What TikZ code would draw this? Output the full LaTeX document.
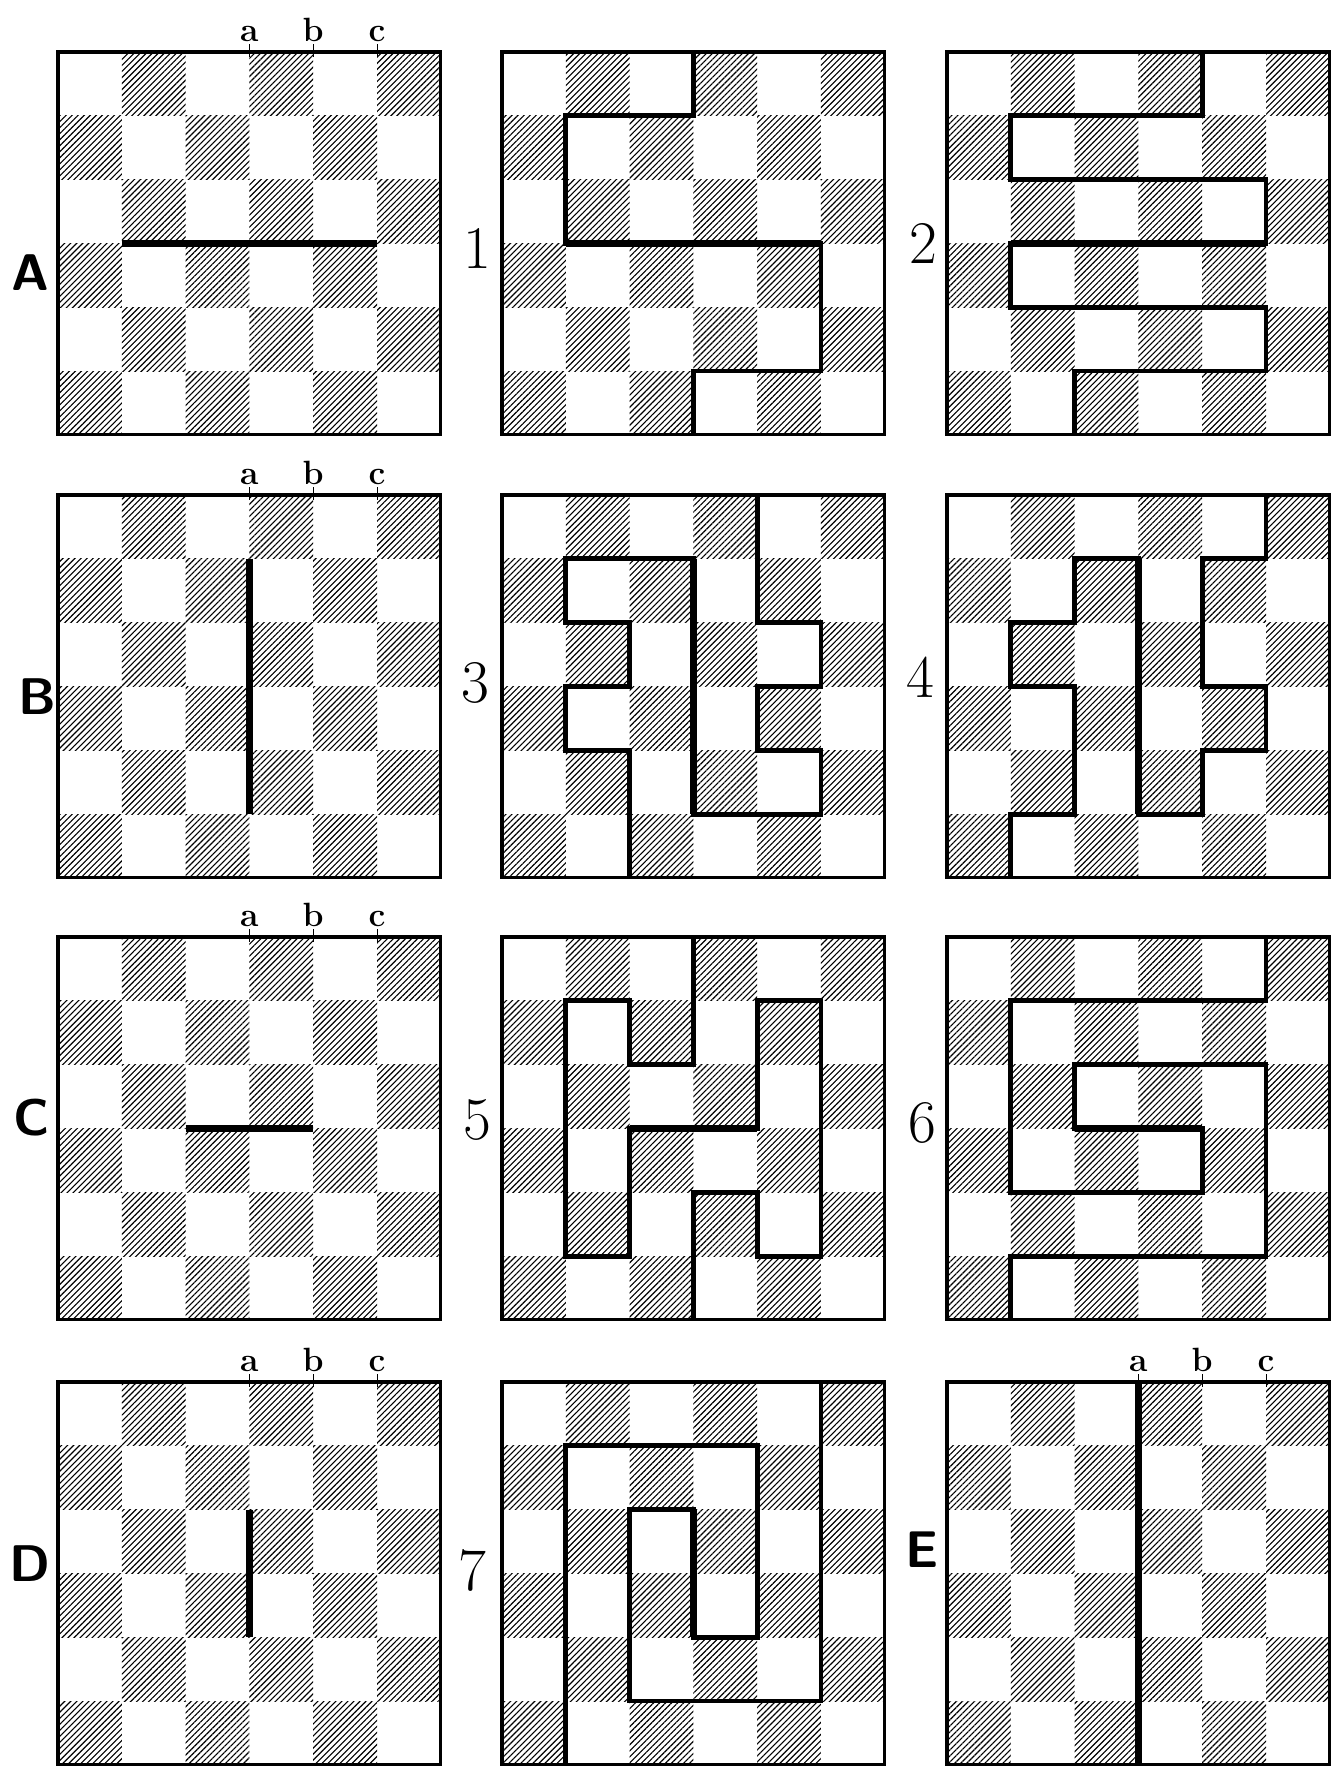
\documentclass[tikz,border=0pt]{standalone}
\usepackage{tikz}
\usetikzlibrary{patterns.meta}

\begin{document}
\begin{tikzpicture}[
    hatch/.style={pattern={Lines[angle=45,distance=1.9pt,line width=0.5pt]}},
    board/.style={line width=1.4pt},
    route/.style={line width=2.2pt},
    cut/.style={line width=3.2pt},
    tag/.style={font=\sffamily\bfseries\fontsize{23}{23}\selectfont},
    num/.style={font=\fontsize{27}{27}\selectfont},
    col/.style={font=\bfseries\fontsize{15}{15}\selectfont, anchor=base, inner sep=0pt},
]
\useasboundingbox (0,0) rectangle (20.97,-27.68);

% the twelve boards, hatched like a chess board
\foreach \bx/\by in {0.909/-0.815, 7.868/-0.815, 14.843/-0.815,
                     0.909/-7.759, 7.868/-7.759, 14.843/-7.759,
                     0.909/-14.687, 7.868/-14.687, 14.843/-14.687,
                     0.909/-21.661, 7.868/-21.661, 14.843/-21.661} {
  \foreach \j in {0,...,5}
    \foreach \k in {0,2,4}
      \fill[hatch] ({\bx+\k+1-mod(\j,2)},{\by-\j}) rectangle ++(1,-1);
  \draw[board] (\bx,\by) rectangle ++(6,-6);
}

% A
\begin{scope}[shift={(0.909,-0.815)}]
  \draw[cut] (1,-3) -- (5,-3);
  \foreach \x/\t in {3/a,4/b,5/c} {
    \draw (\x,0.12) -- (\x,-0.08);
    \node[col] (A\t) at (\x,0.16) {\t};
  }
\end{scope}
% 1
\begin{scope}[shift={(7.868,-0.815)}]
  \draw[route] (3,0) -- (3,-1) -- (1,-1) -- (1,-3) -- (5,-3) -- (5,-5) -- (3,-5) -- (3,-6);
  \draw[cut] (1,-3) -- (5,-3);
\end{scope}
% 2
\begin{scope}[shift={(14.843,-0.815)}]
  \draw[route] (4,0) -- (4,-1) -- (1,-1) -- (1,-2) -- (5,-2) -- (5,-3) -- (1,-3) -- (1,-4)
    -- (5,-4) -- (5,-5) -- (2,-5) -- (2,-6);
  \draw[cut] (1,-3) -- (5,-3);
\end{scope}

% B
\begin{scope}[shift={(0.909,-7.759)}]
  \draw[cut] (3,-1) -- (3,-5);
  \foreach \x/\t in {3/a,4/b,5/c} {
    \draw (\x,0.12) -- (\x,-0.08);
    \node[col] (B\t) at (\x,0.16) {\t};
  }
\end{scope}
% 3
\begin{scope}[shift={(7.868,-7.759)}]
  \draw[route] (4,0) -- (4,-2) -- (5,-2) -- (5,-3) -- (4,-3) -- (4,-4) -- (5,-4) -- (5,-5)
    -- (3,-5) -- (3,-1) -- (1,-1) -- (1,-2) -- (2,-2) -- (2,-3) -- (1,-3) -- (1,-4)
    -- (2,-4) -- (2,-6);
  \draw[cut] (3,-1) -- (3,-5);
\end{scope}
% 4
\begin{scope}[shift={(14.843,-7.759)}]
  \draw[route] (5,0) -- (5,-1) -- (4,-1) -- (4,-3) -- (5,-3) -- (5,-4) -- (4,-4) -- (4,-5)
    -- (3,-5) -- (3,-1) -- (2,-1) -- (2,-2) -- (1,-2) -- (1,-3) -- (2,-3) -- (2,-5)
    -- (1,-5) -- (1,-6);
  \draw[cut] (3,-1) -- (3,-5);
\end{scope}

% C
\begin{scope}[shift={(0.909,-14.687)}]
  \draw[cut] (2,-3) -- (4,-3);
  \foreach \x/\t in {3/a,4/b,5/c} {
    \draw (\x,0.12) -- (\x,-0.08);
    \node[col] (C\t) at (\x,0.16) {\t};
  }
\end{scope}
% 5
\begin{scope}[shift={(7.868,-14.687)}]
  \draw[route] (3,0) -- (3,-2) -- (2,-2) -- (2,-1) -- (1,-1) -- (1,-5) -- (2,-5) -- (2,-3)
    -- (4,-3) -- (4,-1) -- (5,-1) -- (5,-5) -- (4,-5) -- (4,-4) -- (3,-4) -- (3,-6);
  \draw[cut] (2,-3) -- (4,-3);
\end{scope}
% 6
\begin{scope}[shift={(14.843,-14.687)}]
  \draw[route] (5,0) -- (5,-1) -- (1,-1) -- (1,-4) -- (4,-4) -- (4,-3) -- (2,-3) -- (2,-2)
    -- (5,-2) -- (5,-5) -- (1,-5) -- (1,-6);
  \draw[cut] (2,-3) -- (4,-3);
\end{scope}

% D
\begin{scope}[shift={(0.909,-21.661)}]
  \draw[cut] (3,-2) -- (3,-4);
  \foreach \x/\t in {3/a,4/b,5/c} {
    \draw (\x,0.12) -- (\x,-0.08);
    \node[col] (D\t) at (\x,0.16) {\t};
  }
\end{scope}
% 7
\begin{scope}[shift={(7.868,-21.661)}]
  \draw[route] (5,0) -- (5,-5) -- (2,-5) -- (2,-2) -- (3,-2) -- (3,-4) -- (4,-4) -- (4,-1)
    -- (1,-1) -- (1,-6);
  \draw[cut] (3,-2) -- (3,-4);
\end{scope}
% E
\begin{scope}[shift={(14.843,-21.661)}]
  \draw[cut] (3,0) -- (3,-6);
  \foreach \x/\t in {3/a,4/b,5/c} {
    \draw (\x,0.12) -- (\x,-0.08);
    \node[col] (E\t) at (\x,0.16) {\t};
  }
\end{scope}

% names of the boards
\node[tag] (tA) at (0.47,-4.28) {A};
\node[num] (t1) at (7.49,-3.89) {1};
\node[num] (t2) at (14.47,-3.81) {2};
\node[tag] (tB) at (0.58,-10.92) {B};
\node[num] (t3) at (7.45,-10.71) {3};
\node[num] (t4) at (14.42,-10.61) {4};
\node[tag] (tC) at (0.50,-17.51) {C};
\node[num] (t5) at (7.48,-17.55) {5};
\node[num] (t6) at (14.45,-17.60) {6};
\node[tag] (tD) at (0.47,-24.50) {D};
\node[num] (t7) at (7.41,-24.61) {7};
\node[tag] (tE) at (14.45,-24.29) {E};
\end{tikzpicture}
\end{document}
